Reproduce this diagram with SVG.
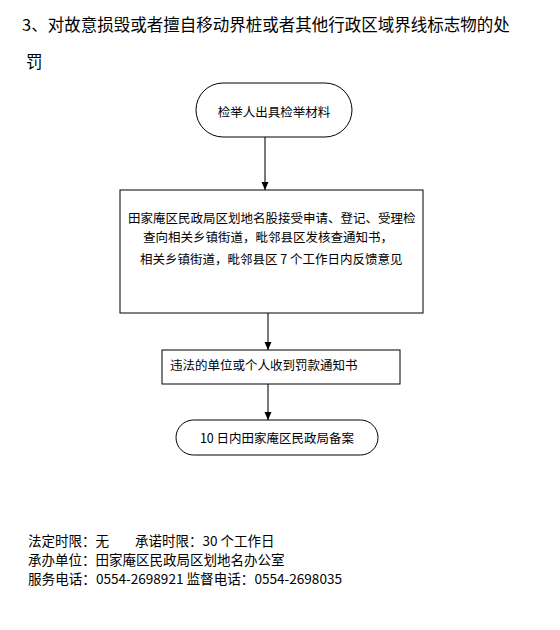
<svg xmlns="http://www.w3.org/2000/svg" width="560" height="630" viewBox="0 0 560 630">
<style>
text{font-family:"Noto Sans CJK SC","Noto Sans",sans-serif;fill:#000}
.t{font-size:16.5px}
.n{font-size:12.5px}
.f{font-size:13.5px}
.box{fill:#fff;stroke:#000;stroke-width:1}
.c{stroke:#333;stroke-width:1.3;fill:none;marker-end:url(#ah)}
</style>
<defs>
<marker id="ah" viewBox="0 0 8 8" refX="8" refY="4" markerWidth="8" markerHeight="8" markerUnits="userSpaceOnUse" orient="auto">
<path d="M0,0.5 L8,4 L0,7.5 Z" fill="#000"/>
</marker>
</defs>
<rect width="560" height="630" fill="#fff"/>
<text class="t" x="22" y="31">3、对故意损毁或者擅自移动界桩或者其他行政区域界线标志物的处</text>
<text class="t" x="26" y="68">罚</text>
<g id="connectors">
<line class="c" x1="265" y1="137" x2="265" y2="190"/>
<line class="c" x1="268" y1="313" x2="268" y2="350"/>
<line class="c" x1="268" y1="384" x2="268" y2="420"/>
</g>
<g id="n1">
<rect class="box" x="196" y="83" width="156" height="54" rx="27" ry="27"/>
<text class="n" x="274" y="116.5" text-anchor="middle">检举人出具检举材料</text>
</g>
<g id="n2">
<rect class="box" x="120" y="190" width="303" height="123"/>
<text class="n" x="128" y="223">田家庵区民政局区划地名股接受申请、登记、受理检</text>
<text class="n" x="143" y="242">查向相关乡镇街道，毗邻县区发核查通知书，</text>
<text class="n" x="140" y="264">相关乡镇街道，毗邻县区 7 个工作日内反馈意见</text>
</g>
<g id="n3">
<rect class="box" x="162" y="350" width="238" height="34"/>
<text class="n" x="170" y="369.5">违法的单位或个人收到罚款通知书</text>
</g>
<g id="n4">
<rect class="box" x="176" y="420" width="202" height="35" rx="17.5" ry="17.5"/>
<text class="n" x="277" y="442.5" text-anchor="middle">10 日内田家庵区民政局备案</text>
</g>
<text class="f" x="28" y="546">法定时限：无</text>
<text class="f" x="135" y="546">承诺时限：30 个工作日</text>
<text class="f" x="28" y="565">承办单位：田家庵区民政局区划地名办公室</text>
<text class="f" x="28" y="584" textLength="314" lengthAdjust="spacingAndGlyphs">服务电话：0554-2698921 监督电话：0554-2698035</text>
</svg>
